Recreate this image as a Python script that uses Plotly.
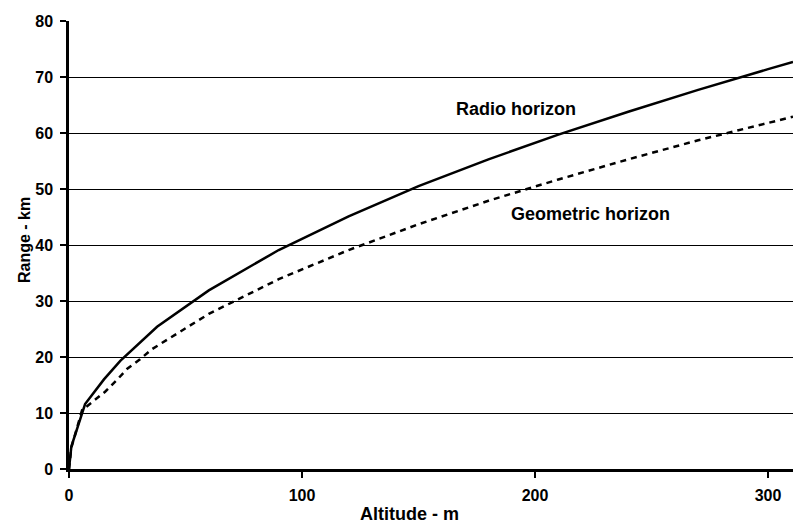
import plotly.graph_objects as go

# Altitude (m) and range (km)
radio_alt = [0, 1, 6.9, 15, 22, 37.8, 60, 90, 120, 150, 180, 210, 240, 270, 300, 310.7]
radio_rng = [0, 4.0, 11.6, 16.0, 19.3, 25.4, 31.9, 39.1, 45.1, 50.5, 55.3, 59.7, 63.8, 67.7, 71.4, 72.7]

geo_alt = [0, 1, 5.6, 15.5, 21, 25, 30.5, 35.6, 60, 90, 120, 150, 180, 210, 240, 270, 300, 310.7]
geo_rng = [0, 3.8, 10.5, 13.8, 16.1, 17.9, 19.6, 21.4, 27.7, 33.9, 39.1, 43.7, 47.9, 51.7, 55.3, 58.7, 61.8, 62.9]

x_ticks = [0, 100, 200, 300]
y_ticks = [0, 10, 20, 30, 40, 50, 60, 70, 80]

font_family = "Liberation Sans, Arial, sans-serif"

fig = go.Figure()
fig.add_trace(go.Scatter(x=radio_alt, y=radio_rng, mode="lines",
                         line=dict(color="black", width=2.5), name="Radio horizon"))
fig.add_trace(go.Scatter(x=geo_alt, y=geo_rng, mode="lines",
                         line=dict(color="black", width=2.5, dash="6px,5px"), name="Geometric horizon"))

fig.add_annotation(x=191.8, y=64.3, text="<b>Radio horizon</b>", showarrow=False,
                   font=dict(family=font_family, size=18, color="black"))
fig.add_annotation(x=223.6, y=45.5, text="<b>Geometric horizon</b>", showarrow=False,
                   font=dict(family=font_family, size=18, color="black"))

# axis titles
fig.add_annotation(xref="paper", yref="paper", x=(409 - 69) / 724, y=-(514 - 469) / 448,
                   text="<b>Altitude - m</b>", showarrow=False, yanchor="middle",
                   font=dict(family=font_family, size=18, color="black"))
fig.add_annotation(xref="paper", yref="paper", x=-(69 - 24) / 724, y=(469 - 240) / 448,
                   text="<b>Range - km</b>", showarrow=False, textangle=-90,
                   xanchor="center", yanchor="middle",
                   font=dict(family=font_family, size=16, color="black"))

fig.update_layout(
    width=793, height=531,
    margin=dict(l=69, r=0, t=21, b=62),
    paper_bgcolor="white", plot_bgcolor="white",
    showlegend=False,
    font=dict(family=font_family, color="black"),
    xaxis=dict(range=[0, 310.7], tickvals=x_ticks, ticktext=[f"<b>{v}</b>" for v in x_ticks],
               showgrid=False, zeroline=False, showline=True, linecolor="black", linewidth=2.5,
               ticks="outside", ticklen=6, tickwidth=2, tickcolor="black", ticklabelstandoff=4,
               tickfont=dict(size=16, family=font_family)),
    yaxis=dict(range=[0, 80], tickvals=y_ticks, ticktext=[f"<b>{v}</b>" for v in y_ticks],
               showgrid=True, gridcolor="black", gridwidth=1, zeroline=False,
               showline=True, linecolor="black", linewidth=2.5,
               ticks="outside", ticklen=6, tickwidth=2, tickcolor="black", ticklabelstandoff=4,
               tickfont=dict(size=16, family=font_family)),
)

fig.write_html("out.html")
